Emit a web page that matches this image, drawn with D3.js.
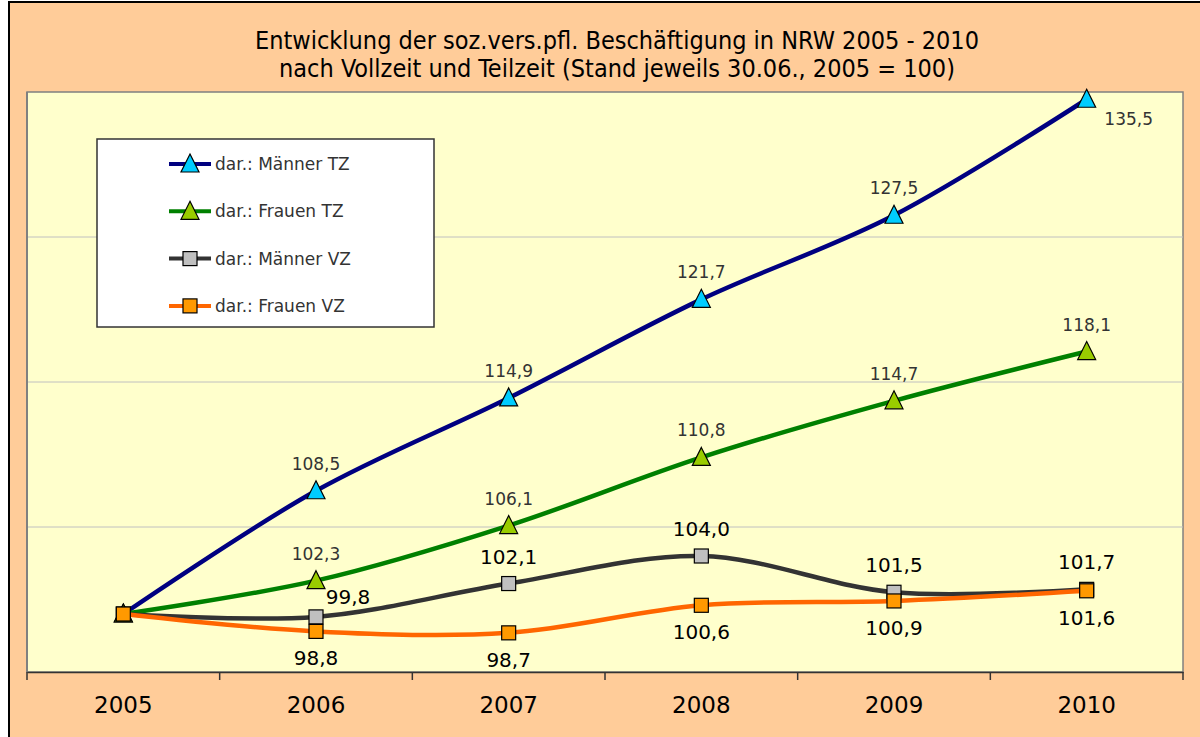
<!DOCTYPE html>
<html>
<head>
<meta charset="utf-8">
<script src="https://cdn.jsdelivr.net/npm/d3@7"></script>
<style>
  html, body { margin: 0; padding: 0; background: #fff; }
  svg { display: block; }
</style>
</head>
<body>
<script>
document.addEventListener('DOMContentLoaded', () => {
  // Data
  const years = ['2005', '2006', '2007', '2008', '2009', '2010'];
  const maennerTZ = [100, 108.5, 114.9, 121.7, 127.5, 135.5];
  const frauenTZ = [100, 102.3, 106.1, 110.8, 114.7, 118.1];
  const maennerVZ = [100, 99.8, 102.1, 104.0, 101.5, 101.7];
  const frauenVZ = [100, 98.8, 98.7, 100.6, 100.9, 101.6];
  const seriesNames = ['dar.: Männer TZ', 'dar.: Frauen TZ', 'dar.: Männer VZ', 'dar.: Frauen VZ'];
  const yTicks = [96, 106, 116, 126, 136];
  const titleLines = [
    'Entwicklung der soz.vers.pfl. Beschäftigung in NRW 2005 - 2010',
    'nach Vollzeit und Teilzeit (Stand jeweils 30.06., 2005 = 100)'
  ];

  // Chart dimensions
  const w = 1200;
  const h = 737;
  const plot = { left: 27, right: 1183, top: 92, bottom: 672 };
  const font = '"Century Gothic", "URW Gothic", "DejaVu Sans", sans-serif';

  const series = [
    { name: seriesNames[0], values: maennerTZ, line: '#000080', fill: '#00CCFF', marker: 'tri',
      labelColor: '#333', labelSize: 17,
      pos: [null, 'above', 'above', 'above', 'above', 'right'] },
    { name: seriesNames[1], values: frauenTZ, line: '#008000', fill: '#99CC00', marker: 'tri',
      labelColor: '#333', labelSize: 17,
      pos: [null, 'above', 'above', 'above', 'above', 'above'] },
    { name: seriesNames[2], values: maennerVZ, line: '#333333', fill: '#C0C0C0', marker: 'sq',
      labelColor: '#000', labelSize: 20,
      pos: [null, 'aboveright', 'above', 'above', 'above', 'above'] },
    { name: seriesNames[3], values: frauenVZ, line: '#FF6600', fill: '#FF9900', marker: 'sq',
      labelColor: '#000', labelSize: 20,
      pos: [null, 'below', 'below', 'below', 'below', 'below'] }
  ];

  const svg = d3.select('body')
    .append('svg')
    .attr('width', w)
    .attr('height', h);

  // Background
  svg.append('rect')
    .attr('x', 0).attr('y', 0).attr('width', w).attr('height', h)
    .attr('fill', '#fff');
  svg.append('rect')
    .attr('x', 9).attr('y', 2).attr('width', w + 10).attr('height', h + 10)
    .attr('fill', '#FFCC99')
    .attr('stroke', '#000')
    .attr('stroke-width', 2);

  // Scales
  const xScale = d3.scaleBand()
    .domain(years)
    .range([plot.left, plot.right]);

  const yScale = d3.scaleLinear()
    .domain([96, 136])
    .range([plot.bottom, plot.top]);

  const cx = d => xScale(d) + xScale.bandwidth() / 2;

  // Plot area
  svg.append('rect')
    .attr('x', plot.left).attr('y', plot.top)
    .attr('width', plot.right - plot.left)
    .attr('height', plot.bottom - plot.top)
    .attr('fill', '#FFFFCC')
    .attr('stroke', '#808080')
    .attr('stroke-width', 1.5);

  // Gridlines
  svg.append('g')
    .selectAll('line')
    .data(yTicks.slice(1, -1))
    .enter()
    .append('line')
    .attr('x1', plot.left).attr('x2', plot.right)
    .attr('y1', d => yScale(d)).attr('y2', d => yScale(d))
    .attr('stroke', '#C0C0C0')
    .attr('stroke-width', 1);

  // Y axis (no labels)
  svg.append('line')
    .attr('x1', plot.left).attr('x2', plot.left)
    .attr('y1', plot.top).attr('y2', plot.bottom)
    .attr('stroke', '#808080')
    .attr('stroke-width', 2);

  // X axis
  const xAxis = d3.axisBottom(xScale).tickSize(0).tickPadding(25);
  const gx = svg.append('g')
    .attr('transform', `translate(0, ${plot.bottom})`)
    .call(xAxis);
  gx.select('.domain').attr('stroke', '#333').attr('stroke-width', 1.5);
  gx.selectAll('text')
    .attr('font-family', font)
    .attr('font-size', 23)
    .attr('fill', '#000');

  // Tick marks at category boundaries
  const bounds = years.map(d => xScale(d)).concat([plot.right]);
  svg.append('g')
    .selectAll('line')
    .data(bounds)
    .enter()
    .append('line')
    .attr('x1', d => d).attr('x2', d => d)
    .attr('y1', plot.bottom).attr('y2', plot.bottom + 8)
    .attr('stroke', '#333')
    .attr('stroke-width', 1.5);

  // Lines
  const line = d3.line()
    .x((d, i) => cx(years[i]))
    .y(d => yScale(d))
    .curve(d3.curveCatmullRom.alpha(0.5));

  const drawMarker = (g, type, x, y, fill) => {
    if (type === 'tri') {
      const s = 9;
      g.append('path')
        .attr('d', `M${x},${y - s - 1} L${x + s},${y + s - 1} L${x - s},${y + s - 1} Z`)
        .attr('fill', fill)
        .attr('stroke', '#000')
        .attr('stroke-width', 1.2);
    } else {
      const s = 7;
      g.append('rect')
        .attr('x', x - s).attr('y', y - s)
        .attr('width', 2 * s).attr('height', 2 * s)
        .attr('fill', fill)
        .attr('stroke', '#000')
        .attr('stroke-width', 1.2);
    }
  };

  series.forEach((s) => {
    const g = svg.append('g');
    g.append('path')
      .datum(s.values)
      .attr('d', line)
      .attr('fill', 'none')
      .attr('stroke', s.line)
      .attr('stroke-width', 4.5);
    s.values.forEach((v, i) => {
      drawMarker(g, s.marker, cx(years[i]), yScale(v), s.fill);
    });
  });

  // Data labels
  const fmt = v => d3.format('.1f')(v).replace('.', ',');
  const offsets = {
    above: [0, -27],
    below: [0, 27],
    right: [42, 20],
    aboveright: [32, -20]
  };
  series.forEach((s) => {
    s.values.forEach((v, i) => {
      if (!s.pos[i]) return;
      const [dx, dy] = offsets[s.pos[i]];
      svg.append('text')
        .attr('x', cx(years[i]) + dx)
        .attr('y', yScale(v) + dy)
        .attr('dy', '0.35em')
        .attr('text-anchor', 'middle')
        .attr('font-family', font)
        .attr('font-size', s.labelSize)
        .attr('fill', s.labelColor)
        .text(fmt(v));
    });
  });

  // Legend
  const legend = svg.append('g').attr('transform', 'translate(97, 139)');
  legend.append('rect')
    .attr('width', 337).attr('height', 188)
    .attr('fill', '#fff')
    .attr('stroke', '#333')
    .attr('stroke-width', 1.5);
  series.forEach((s, i) => {
    const y = 25 + i * 47.3;
    legend.append('line')
      .attr('x1', 72).attr('x2', 114)
      .attr('y1', y).attr('y2', y)
      .attr('stroke', s.line)
      .attr('stroke-width', 4);
    drawMarker(legend, s.marker, 93, y, s.fill);
    legend.append('text')
      .attr('x', 118)
      .attr('y', y)
      .attr('dy', '0.35em')
      .attr('font-family', font)
      .attr('font-size', 17)
      .attr('fill', '#333')
      .text(s.name);
  });

  // Title
  titleLines.forEach((t, i) => {
    svg.append('text')
      .attr('x', 617)
      .attr('y', 40 + i * 28)
      .attr('dy', '0.35em')
      .attr('text-anchor', 'middle')
      .attr('font-family', '"Liberation Sans Narrow", "DejaVu Sans Condensed", sans-serif')
      .attr('font-size', 25)
      .attr('fill', '#000')
      .text(t);
  });
});
</script>
</body>
</html>
